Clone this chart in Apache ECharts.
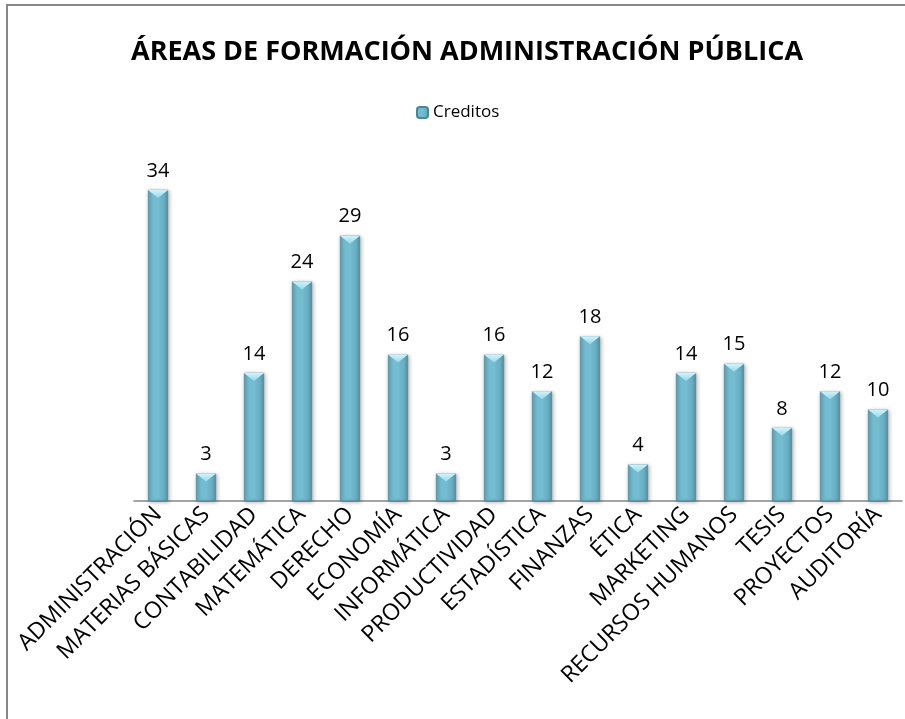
<!DOCTYPE html>
<html>
<head>
<meta charset="utf-8">
<script src="https://cdn.jsdelivr.net/npm/echarts@6/dist/echarts.min.js"></script>
<style>
  html, body { margin: 0; padding: 0; background: #fff; }
  #chart { width: 905px; height: 719px; }
</style>
</head>
<body>
<div id="chart"></div>
<script>
// Créditos por área de formación — bevelled column chart, one series.

const categories = [
  'ADMINISTRACIÓN', 'MATERIAS BÁSICAS', 'CONTABILIDAD', 'MATEMÁTICA', 'DERECHO',
  'ECONOMÍA', 'INFORMÁTICA', 'PRODUCTIVIDAD', 'ESTADÍSTICA', 'FINANZAS', 'ÉTICA',
  'MARKETING', 'RECURSOS HUMANOS', 'TESIS', 'PROYECTOS', 'AUDITORÍA'
];
const creditos = [34, 3, 14, 24, 29, 16, 3, 16, 12, 18, 4, 14, 15, 8, 12, 10];

const FONT = 'Open Sans, Noto Sans, sans-serif';

const chart = echarts.init(document.getElementById('chart'));

// Body of the column: lighter in the middle, darker toward the edges
const barFill = new echarts.graphic.LinearGradient(0, 0, 1, 0, [
  { offset: 0, color: '#5a9cb1' },
  { offset: 0.2, color: '#74bbcf' },
  { offset: 0.5, color: '#76bdd1' },
  { offset: 0.85, color: '#66aabf' },
  { offset: 1, color: '#4d8ca0' }
]);

chart.setOption({
  animation: false,
  backgroundColor: '#fff',
  title: {
    text: 'ÁREAS DE FORMACIÓN ADMINISTRACIÓN PÚBLICA',
    left: 126, top: 34,
    textStyle: { fontFamily: FONT, fontSize: 27, fontWeight: 'bold', color: '#000' }
  },
  legend: {
    data: ['Creditos'],
    top: 99, left: 411,
    itemWidth: 11, itemHeight: 11, itemGap: 4,
    textStyle: { fontFamily: FONT, fontSize: 17, color: '#000' }
  },
  graphic: [{
    type: 'rect', silent: true, z: -1,
    shape: { x: 7, y: 5, width: 1000, height: 1000 },
    style: { fill: 'none', stroke: '#878787', lineWidth: 2 }
  }],
  grid: { left: 134, right: 3, top: 135, bottom: 218 },
  xAxis: {
    type: 'category',
    data: categories,
    axisLine: { lineStyle: { color: '#868686', width: 1.5 } },
    axisTick: { show: false },
    axisLabel: {
      interval: 0, rotate: 45, margin: 10,
      fontFamily: FONT, fontSize: 23, color: '#000'
    }
  },
  yAxis: {
    type: 'value', min: 0, max: 40, show: false,
    splitLine: { show: false }
  },
  series: [
    {
      name: 'Creditos',
      type: 'bar',
      data: creditos,
      barWidth: 20,
      itemStyle: {
        color: barFill,
        borderColor: '#4a8799',
        borderWidth: 0.6,
        shadowColor: 'rgba(0,0,0,0.3)',
        shadowBlur: 4,
        shadowOffsetX: 1,
        shadowOffsetY: 1
      },
      label: {
        show: true, position: 'top', distance: 9,
        fontFamily: FONT, fontSize: 20, color: '#000'
      }
    },
    {
      // light bevel facet at the top of each column
      name: 'bevel',
      type: 'pictorialBar',
      data: creditos,
      symbol: 'path://M0,0 L20,0 L10,8 Z',
      symbolSize: [20, 8],
      symbolPosition: 'end',
      symbolOffset: [0, 0],
      barGap: '-100%',
      z: 3,
      itemStyle: {
        color: new echarts.graphic.LinearGradient(0, 0, 0, 1, [
          { offset: 0, color: '#d2f4fc' },
          { offset: 1, color: '#96d8ea' }
        ])
      },
      silent: true,
      tooltip: { show: false }
    }
  ]
});
</script>
</body>
</html>
